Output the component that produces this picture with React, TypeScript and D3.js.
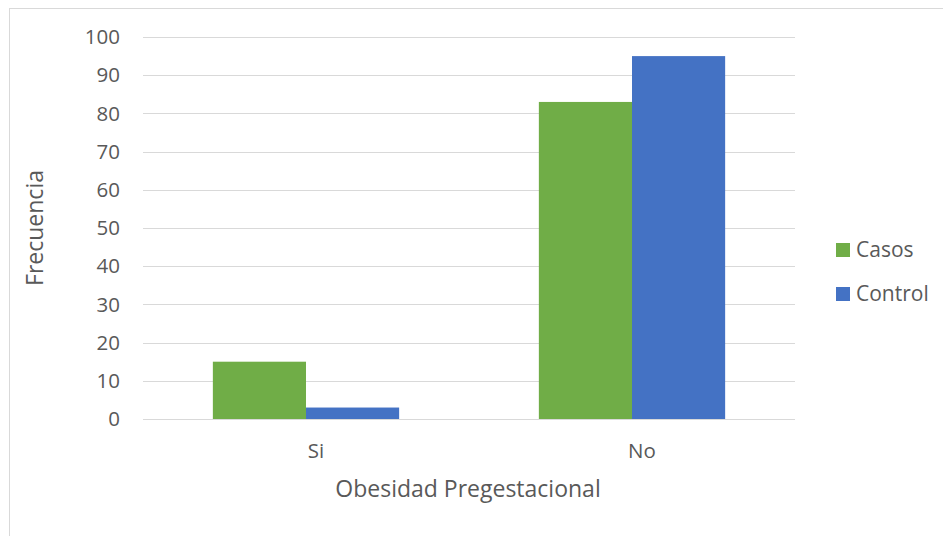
import React from "react";
import * as d3 from "d3";

const categories = ["Si", "No"];
const seriesNames = ["Casos", "Control"];
const casos = [15, 83];
const control = [3, 95];
const yTicks = [0, 10, 20, 30, 40, 50, 60, 70, 80, 90, 100];
const colors = ["#70AD47", "#4472C4"];

const W = 943;
const H = 536;
const plot = { left: 143, right: 795, top: 37, bottom: 419 };
const font = "'Open Sans', 'Liberation Sans', sans-serif";
const textColor = "#595959";

export default function App() {
  const x = d3.scaleBand().domain(categories).range([plot.left, plot.right]).paddingInner(0).paddingOuter(0);
  const inner = d3.scaleBand().domain(seriesNames).range([0, x.bandwidth()]).paddingInner(0).paddingOuter(0.75);
  const y = d3.scaleLinear().domain([0, 100]).range([plot.bottom, plot.top]);
  const series = [casos, control];

  return (
    <svg width={W} height={H} style={{ position: "absolute", left: 0, top: 0 }} fontFamily={font}>
      <rect x={0} y={0} width={W} height={H} fill="#fff" />
      <rect x={9.5} y={8.5} width={W + 10} height={H + 10} fill="none" stroke="#d9d9d9" strokeWidth={1} />
      {yTicks.map((t) => (
        <g key={t}>
          <line x1={plot.left} x2={plot.right} y1={Math.round(y(t)) + 0.5} y2={Math.round(y(t)) + 0.5} stroke="#d9d9d9" strokeWidth={1} />
          <text x={120} y={y(t)} dy="0.35em" textAnchor="end" fontSize={20.5} fill={textColor}>{t}</text>
        </g>
      ))}
      {categories.map((c, i) => (
        <g key={c}>
          {series.map((s, j) => (
            <rect key={j} x={(x(c) as number) + (inner(seriesNames[j]) as number)} y={y(s[i])}
              width={inner.bandwidth()} height={y(0) - y(s[i])} fill={colors[j]} />
          ))}
          <text x={(x(c) as number) + x.bandwidth() / 2 + 10} y={451} dy="0.35em" textAnchor="middle" fontSize={20.5} fill={textColor}>{c}</text>
        </g>
      ))}
      <line x1={plot.left} x2={plot.right} y1={plot.bottom + 0.5} y2={plot.bottom + 0.5} stroke="#d9d9d9" strokeWidth={1} />
      <text x={468} y={489} dy="0.35em" textAnchor="middle" fontSize={23} fill={textColor}>Obesidad Pregestacional</text>
      <text transform={`translate(35,228) rotate(-90)`} dy="0.35em" textAnchor="middle" fontSize={23} fill={textColor}>Frecuencia</text>
      {seriesNames.map((n, j) => (
        <g key={n} transform={`translate(836, ${250 + j * 44})`}>
          <rect x={0} y={-7} width={14} height={14} fill={colors[j]} />
          <text x={20} y={0} dy="0.35em" fontSize={21} fill={textColor}>{n}</text>
        </g>
      ))}
    </svg>
  );
}
